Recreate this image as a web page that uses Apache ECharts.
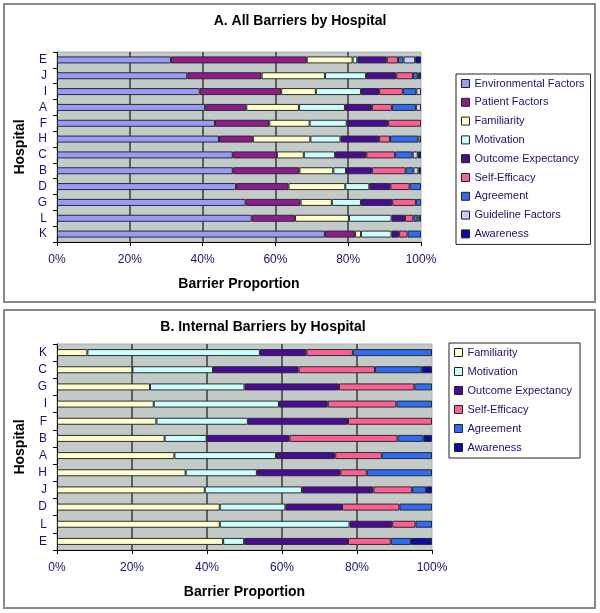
<!DOCTYPE html>
<html>
<head>
<meta charset="utf-8">
<script src="https://cdn.jsdelivr.net/npm/echarts@6/dist/echarts.min.js"></script>
<style>
  html, body { margin: 0; padding: 0; background: #fff; }
  #main { width: 600px; height: 613px; }
</style>
</head>
<body>
<div id="main"></div>
<script>
// chart A: all barriers, hospitals top to bottom
var hospitalsA = ['E', 'J', 'I', 'A', 'F', 'H', 'C', 'B', 'D', 'G', 'L', 'K'];
var aEnvironmental = [31.3, 35.8, 39.2, 40.7, 43.4, 44.5, 48.3, 48.3, 49.2, 51.8, 53.5, 73.6];
var aPatient       = [37.3, 20.4, 22.4, 11.3, 14.9, 9.3, 12.1, 18.3, 14.4, 15.1, 11.9, 8.3];
var aFamiliarity   = [12.6, 17.4, 9.5, 14.5, 11.1, 15.8, 7.4, 9.3, 15.6, 8.6, 14.8, 1.6];
var aMotivation    = [1.3, 11.3, 12.4, 12.6, 10.2, 8.3, 8.6, 3.5, 6.6, 8.0, 11.7, 8.4];
var aOutcome       = [8.1, 8.3, 5.0, 7.4, 11.4, 10.6, 8.6, 7.1, 5.8, 8.6, 3.7, 2.1];
var aSelfEfficacy  = [3.1, 4.6, 6.5, 5.5, 9.0, 3.0, 7.9, 9.3, 5.3, 6.5, 2.3, 2.3];
var aAgreement     = [1.5, 1.3, 3.7, 6.6, 0, 7.8, 4.8, 2.1, 3.1, 1.4, 1.2, 3.7];
var aGuideline     = [3.2, 0.3, 1.3, 1.4, 0, 0.7, 1.4, 1.4, 0, 0, 0.6, 0];
var aAwareness     = [1.6, 0.6, 0, 0, 0, 0, 0.9, 0.7, 0, 0, 0.3, 0];

// chart B: internal barriers, hospitals top to bottom
var hospitalsB = ['K', 'C', 'G', 'I', 'F', 'B', 'A', 'H', 'J', 'D', 'L', 'E'];
var bFamiliarity  = [8.1, 20.1, 24.8, 25.8, 26.5, 28.7, 31.3, 34.3, 39.4, 43.4, 43.4, 44.3];
var bMotivation   = [46.0, 21.5, 25.2, 33.4, 24.4, 11.2, 27.1, 19.0, 25.9, 17.5, 34.6, 5.6];
var bOutcome      = [12.4, 22.8, 25.2, 13.0, 26.7, 22.1, 15.8, 22.3, 19.1, 15.1, 11.4, 27.7];
var bSelfEfficacy = [12.4, 20.4, 20.1, 18.3, 22.4, 28.8, 12.4, 7.0, 10.3, 15.3, 6.2, 11.4];
var bAgreement    = [21.1, 12.5, 4.7, 9.5, 0, 6.9, 13.4, 17.4, 3.7, 8.7, 4.4, 5.4];
var bAwareness    = [0, 2.7, 0, 0, 0, 2.3, 0, 0, 1.6, 0, 0, 5.6];

var xTicks = [0, 20, 40, 60, 80, 100];

var colors = {
  'Environmental Factors': '#9999FF',
  'Patient Factors': '#901A8E',
  'Familiarity': '#FFFFCC',
  'Motivation': '#CCFFFF',
  'Outcome Expectancy': '#4A0A98',
  'Self-Efficacy': '#FF5C9A',
  'Agreement': '#2E6CF5',
  'Guideline Factors': '#CCCCFF',
  'Awareness': '#0A0AA8'
};

var font = 'Liberation Sans, Arial, sans-serif';
var navy = '#14146e';

var seriesA = [
  ['Environmental Factors', aEnvironmental],
  ['Patient Factors', aPatient],
  ['Familiarity', aFamiliarity],
  ['Motivation', aMotivation],
  ['Outcome Expectancy', aOutcome],
  ['Self-Efficacy', aSelfEfficacy],
  ['Agreement', aAgreement],
  ['Guideline Factors', aGuideline],
  ['Awareness', aAwareness]
];
var seriesB = [
  ['Familiarity', bFamiliarity],
  ['Motivation', bMotivation],
  ['Outcome Expectancy', bOutcome],
  ['Self-Efficacy', bSelfEfficacy],
  ['Agreement', bAgreement],
  ['Awareness', bAwareness]
];

function makeBar(item, idx) {
  return {
    name: item[0],
    type: 'bar',
    stack: 'stack' + idx,
    xAxisIndex: idx,
    yAxisIndex: idx,
    barWidth: 7,
    data: item[1].map(function (v) { return v === 0 ? '-' : v; }),
    itemStyle: { color: colors[item[0]], borderColor: '#2a2a2a', borderWidth: 1 }
  };
}

function xAxisFor(idx) {
  return {
    gridIndex: idx,
    type: 'value',
    min: xTicks[0],
    max: xTicks[xTicks.length - 1],
    interval: 20,
    name: 'Barrier Proportion',
    nameLocation: 'middle',
    nameGap: 35,
    nameTextStyle: { fontFamily: font, fontSize: 14, fontWeight: 'bold', color: '#000' },
    axisLine: { show: true, lineStyle: { color: '#000', width: 1 } },
    axisTick: { show: true, length: 4, lineStyle: { color: '#000' } },
    axisLabel: { formatter: '{value}%', margin: 12, fontFamily: font, fontSize: 12, color: navy },
    splitLine: { show: true, showMinLine: false, showMaxLine: false, lineStyle: { color: '#3a3a3a', width: 1.5 } }
  };
}

function yAxisFor(idx, cats) {
  return {
    gridIndex: idx,
    type: 'category',
    inverse: true,
    data: cats,
    name: 'Hospital',
    nameLocation: 'middle',
    nameGap: 29,
    nameRotate: 90,
    nameTextStyle: { fontFamily: font, fontSize: 14, fontWeight: 'bold', color: '#000' },
    axisLine: { show: true, lineStyle: { color: '#000', width: 1 } },
    axisTick: { show: true, length: 4, lineStyle: { color: '#000' } },
    axisLabel: { margin: 10, fontFamily: font, fontSize: 12, color: navy },
    splitLine: { show: false }
  };
}

var chart = echarts.init(document.getElementById('main'));
chart.setOption({
  animation: false,
  backgroundColor: '#fff',
  graphic: [
    { type: 'rect', shape: { x: 4, y: 4, width: 591, height: 298 }, style: { fill: 'none', stroke: '#888', lineWidth: 2 } },
    { type: 'rect', shape: { x: 4, y: 310, width: 591, height: 298 }, style: { fill: 'none', stroke: '#888', lineWidth: 2 } }
  ],
  title: [
    { text: 'A. All Barriers by Hospital', left: 300, top: 14, textAlign: 'center', padding: 0,
      textStyle: { fontFamily: font, fontSize: 14, fontWeight: 'bold', color: '#000' } },
    { text: 'B. Internal Barriers by Hospital', left: 263, top: 320, textAlign: 'center', padding: 0,
      textStyle: { fontFamily: font, fontSize: 14, fontWeight: 'bold', color: '#000' } }
  ],
  legend: [
    {
      data: seriesA.map(function (s) { return s[0]; }),
      orient: 'vertical', left: 456, top: 74,
      padding: [4, 6, 5, 5],
      itemGap: 7.8, itemWidth: 8, itemHeight: 8, icon: 'rect',
      borderColor: '#222', borderWidth: 1,
      itemStyle: { borderColor: '#222', borderWidth: 1 },
      textStyle: { fontFamily: font, fontSize: 11, color: navy },
      selectedMode: false
    },
    {
      data: seriesB.map(function (s) { return s[0]; }),
      orient: 'vertical', left: 449, top: 343,
      padding: [4, 8, 5, 5],
      itemGap: 8, itemWidth: 8, itemHeight: 8, icon: 'rect',
      borderColor: '#222', borderWidth: 1,
      itemStyle: { borderColor: '#222', borderWidth: 1 },
      textStyle: { fontFamily: font, fontSize: 11, color: navy },
      selectedMode: false
    }
  ],
  grid: [
    { left: 57, top: 52, width: 364, height: 190, show: true, backgroundColor: '#C3CBC9', borderColor: '#aab0b0', borderWidth: 1 },
    { left: 57, top: 344, width: 375, height: 206, show: true, backgroundColor: '#C3CBC9', borderColor: '#aab0b0', borderWidth: 1 }
  ],
  xAxis: [xAxisFor(0), xAxisFor(1)],
  yAxis: [yAxisFor(0, hospitalsA), yAxisFor(1, hospitalsB)],
  series: seriesA.map(function (s) { return makeBar(s, 0); })
    .concat(seriesB.map(function (s) { return makeBar(s, 1); }))
});
</script>
</body>
</html>
